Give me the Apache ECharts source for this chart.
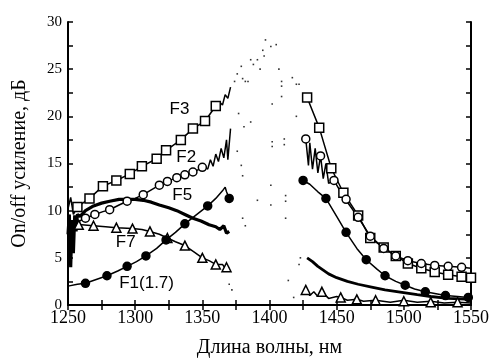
<!DOCTYPE html>
<html><head><meta charset="utf-8">
<script src="https://cdn.jsdelivr.net/npm/echarts@6/dist/echarts.min.js"></script>
<style>html,body{margin:0;padding:0;background:#fff}#c{width:492px;height:363px}</style>
</head><body><div id="c"></div>
<script>
// ---- data ----
const xTicks = [1250,1300,1350,1400,1450,1500,1550];
const yTicks = [0,5,10,15,20,25,30];

const f3LeftLine = [[1250,10.2],[1252,11.4],[1254,9.6],[1257,10.4],[1266,11.3],[1276,12.6],[1286,13.2],[1296,13.9],[1305,14.7],[1316,15.5],[1323,16.4],[1334,17.5],[1343,18.7],[1352,19.5],[1360,21.1],[1363,21.5],[1365,21.2],[1367,22.3],[1369,21.9],[1371,23.1]];
const f3LeftMarks = [[1257,10.4],[1266,11.3],[1276,12.6],[1286,13.2],[1296,13.9],[1305,14.7],[1316,15.5],[1323,16.4],[1334,17.5],[1343,18.7],[1352,19.5],[1360,21.1]];
const f3RightLine = [[1428,22.0],[1437,18.8],[1446,14.5],[1455,11.9],[1466,9.5],[1475,7.1],[1485,6.1],[1494,5.2],[1503,4.4],[1513,3.9],[1523,3.5],[1533,3.2],[1543,3.0],[1550,2.9]];
const f3RightMarks = [[1428,22.0],[1437,18.8],[1446,14.5],[1455,11.9],[1466,9.5],[1475,7.1],[1485,6.1],[1494,5.2],[1503,4.4],[1513,3.9],[1523,3.5],[1533,3.2],[1543,3.0],[1550,2.9]];

const f2LeftLine = [[1250,8.0],[1252,6.5],[1254,8.5],[1257,8.8],[1263,9.2],[1270,9.6],[1276,9.9],[1281,10.1],[1288,10.6],[1294,11.0],[1300,11.3],[1306,11.7],[1312,12.2],[1318,12.7],[1324,13.1],[1331,13.5],[1337,13.8],[1343,14.1],[1348,14.4],[1351,14.7],[1354,14.4],[1356,15.4],[1358,14.7],[1360,16.0],[1362,15.2],[1364,16.6],[1366,15.6],[1368,17.5],[1369,15.4],[1371,18.7]];
const f2LeftMarks = [[1263,9.2],[1270,9.6],[1281,10.1],[1294,11.0],[1306,11.7],[1318,12.7],[1324,13.1],[1331,13.5],[1337,13.8],[1343,14.1],[1350,14.6]];
const f2RightLine = [[1427,17.6],[1429,14.8],[1430,17.2],[1432,14.4],[1434,16.6],[1436,14.0],[1438,15.8],[1440,13.4],[1442,15.0],[1444,12.9],[1448,13.2],[1455,11.5],[1466,9.3],[1475,7.3],[1485,6.0],[1494,5.2],[1503,4.7],[1513,4.4],[1523,4.2],[1533,4.1],[1543,4.0],[1550,3.9]];
const f2RightMarks = [[1427,17.6],[1438,15.8],[1448,13.2],[1457,11.2],[1466,9.3],[1475,7.3],[1485,6.0],[1494,5.2],[1503,4.7],[1513,4.4],[1523,4.2],[1533,4.1],[1543,4.0]];

const f5LeftLine = [[1250,7.5],[1251,9.6],[1252,4.0],[1253,9.0],[1254,5.5],[1255,9.5],[1256,7.8],[1257,9.6],[1259,9.4],[1263,10.0],[1269,10.5],[1275,10.8],[1281,11.0],[1288,11.2],[1294,11.2],[1300,11.2],[1306,11.1],[1312,10.9],[1318,10.6],[1325,10.3],[1331,10.0],[1337,9.6],[1343,9.2],[1349,8.9],[1355,8.5],[1360,8.3],[1363,8.0],[1366,8.4],[1368,7.6],[1370,7.8]];
const f5RightLine = [[1428,5.0],[1432,4.6],[1436,4.1],[1440,3.7],[1444,3.3],[1450,2.9],[1458,2.5],[1466,2.2],[1476,1.9],[1486,1.6],[1496,1.4],[1510,1.1],[1520,0.9],[1533,0.7],[1550,0.6]];

const f7LeftLine = [[1250,8.6],[1252,7.4],[1255,8.8],[1260,8.5],[1269,8.4],[1278,8.3],[1286,8.2],[1298,8.1],[1305,8.0],[1311,7.8],[1318,7.5],[1324,7.1],[1330,6.7],[1337,6.3],[1344,5.6],[1350,5.0],[1355,4.7],[1360,4.3],[1365,4.3],[1367,3.9],[1370,4.0]];
const f7LeftMarks = [[1258,8.5],[1269,8.4],[1286,8.2],[1298,8.1],[1311,7.8],[1324,7.1],[1337,6.3],[1350,5.0],[1360,4.3],[1368,4.0]];
const f7RightLine = [[1427,1.6],[1430,1.0],[1433,1.4],[1436,0.9],[1439,1.4],[1444,0.7],[1450,0.9],[1453,0.8],[1458,0.5],[1465,0.6],[1470,0.4],[1479,0.5],[1490,0.3],[1500,0.5],[1510,0.3],[1520,0.4],[1530,0.2],[1540,0.3],[1550,0.2]];
const f7RightMarks = [[1427,1.6],[1439,1.4],[1453,0.8],[1465,0.6],[1479,0.5],[1500,0.4],[1520,0.3],[1540,0.3]];

const f1LeftLine = [[1250,2.0],[1257,2.2],[1263,2.3],[1271,2.7],[1279,3.1],[1287,3.6],[1294,4.1],[1301,4.6],[1308,5.2],[1316,6.0],[1323,6.9],[1330,7.7],[1337,8.6],[1345,9.5],[1354,10.5],[1360,11.3],[1365,12.1],[1367,12.5],[1368,12.0],[1370,11.3]];
const f1LeftMarks = [[1263,2.3],[1279,3.1],[1294,4.1],[1308,5.2],[1323,6.9],[1337,8.6],[1354,10.5],[1370,11.3]];
const f1RightLine = [[1425,13.2],[1430,12.8],[1436,12.0],[1442,11.3],[1450,9.4],[1457,7.7],[1465,6.0],[1472,4.8],[1480,3.8],[1486,3.1],[1494,2.5],[1501,2.1],[1508,1.7],[1516,1.4],[1524,1.2],[1531,1.0],[1540,0.9],[1548,0.8],[1550,0.8]];
const f1RightMarks = [[1425,13.2],[1442,11.3],[1457,7.7],[1472,4.8],[1486,3.1],[1501,2.1],[1516,1.4],[1531,1.0],[1548,0.8]];

const noiseDots = [[1397,28.1],[1401,27.4],[1405,27.6],[1396,26.4],[1395,27.0],[1386,26.0],[1388,25.5],[1391,26.0],[1379,25.3],[1376,24.5],[1380,24.0],[1374,23.7],[1382,23.7],[1384,23.7],[1393,25.0],[1407,25.0],[1409,23.7],[1409,23.2],[1417,24.1],[1420,23.4],[1422,23.4],[1409,22.1],[1402,21.3],[1420,20.0],[1377,20.3],[1386,19.4],[1381,18.9],[1402,17.3],[1402,16.8],[1411,17.6],[1411,17.0],[1376,16.3],[1379,14.8],[1380,13.7],[1401,12.7],[1391,11.1],[1401,10.6],[1412,11.6],[1412,11.0],[1412,9.2],[1380,9.2],[1382,8.4],[1423,5.0],[1422,4.3],[1414,2.6],[1370,2.2],[1372,1.6],[1418,0.8]];

const curveLabels = [
  {name:'F3', value:[1333,20.7]},
  {name:'F2', value:[1338,15.7]},
  {name:'F5', value:[1335,11.6]},
  {name:'F7', value:[1293,6.6]},
  {name:'F1(1.7)', value:[1308.5,2.3]}
];

// ---- chart ----
const chart = echarts.init(document.getElementById('c'), null, {renderer:'canvas'});
const serif = 'Liberation Serif';
function lineS(data, w){ return {type:'line', data, showSymbol:false, symbol:'none', lineStyle:{color:'#000', width:w||1.5}, silent:true, z:2}; }
function markS(data, sym, size, fill){ return {type:'scatter', data, symbol:sym, symbolSize:size, itemStyle:{color:fill, borderColor:'#000', borderWidth:1.5, opacity:1}, silent:true, z:3}; }

chart.setOption({
  animation:false,
  backgroundColor:'#fff',
  grid:{left:68, right:19, top:22, bottom:55},
  xAxis:[{
    type:'value', min:xTicks[0], max:xTicks[xTicks.length-1], interval:50, position:'bottom',
    name:'Длина волны, нм', nameLocation:'middle', nameGap:33,
    nameTextStyle:{fontFamily:serif, fontSize:20, color:'#000'},
    axisLine:{show:true, lineStyle:{color:'#000', width:2}},
    axisTick:{show:true, inside:true, length:5, lineStyle:{color:'#000', width:1.5}},
    minorTick:{show:true, splitNumber:2, length:5, lineStyle:{color:'#000', width:1.5}},
    axisLabel:{fontFamily:serif, fontSize:18, color:'#000', margin:4, formatter:v=>String(v)},
    splitLine:{show:false}
  },{
    type:'value', min:1250, max:1550, interval:25, position:'top',
    axisLine:{show:true, lineStyle:{color:'#000', width:2}},
    axisTick:{show:true, inside:true, length:5, lineStyle:{color:'#000', width:1.5}},
    axisLabel:{show:false}, splitLine:{show:false}
  }],
  yAxis:[{
    type:'value', min:yTicks[0], max:yTicks[yTicks.length-1], interval:5, position:'left',
    name:'On/off усиление, дБ', nameLocation:'middle', nameGap:38,
    nameTextStyle:{fontFamily:serif, fontSize:20, color:'#000'},
    axisLine:{show:true, lineStyle:{color:'#000', width:2}},
    axisTick:{show:true, inside:true, length:5, lineStyle:{color:'#000', width:1.5}},
    minorTick:{show:true, splitNumber:2, length:5, lineStyle:{color:'#000', width:1.5}},
    axisLabel:{fontFamily:serif, fontSize:15, color:'#000', margin:6},
    splitLine:{show:false}
  },{
    type:'value', min:0, max:30, interval:2.5, position:'right',
    axisLine:{show:true, lineStyle:{color:'#000', width:2}},
    axisTick:{show:true, inside:true, length:5, lineStyle:{color:'#000', width:1.5}},
    axisLabel:{show:false}, splitLine:{show:false}
  }],
  series:[
    {type:'scatter', data:noiseDots, symbol:'rect', symbolSize:1.6, itemStyle:{color:'#000'}, silent:true},
    lineS(f3LeftLine), lineS(f3RightLine),
    lineS(f2LeftLine), lineS(f2RightLine),
    lineS(f5LeftLine,3.2), lineS(f5RightLine,2.8),
    lineS(f7LeftLine), lineS(f7RightLine),
    lineS(f1LeftLine), lineS(f1RightLine),
    markS(f3LeftMarks,'rect',9,'#fff'), markS(f3RightMarks,'rect',9,'#fff'),
    markS(f2LeftMarks,'circle',8,'#fff'), markS(f2RightMarks,'circle',8,'#fff'),
    markS(f7LeftMarks,'triangle',9,'#fff'), markS(f7RightMarks,'triangle',9,'#fff'),
    markS(f1LeftMarks,'circle',8,'#000'), markS(f1RightMarks,'circle',8,'#000'),
    {type:'scatter', data:curveLabels, symbolSize:1, itemStyle:{color:'rgba(0,0,0,0)'}, silent:true, z:5,
     label:{show:true, position:'inside', formatter:p=>p.name, fontFamily:'Liberation Sans', fontSize:17, color:'#000', textBorderWidth:0, opacity:1}}
  ]
});
</script>
</body></html>
